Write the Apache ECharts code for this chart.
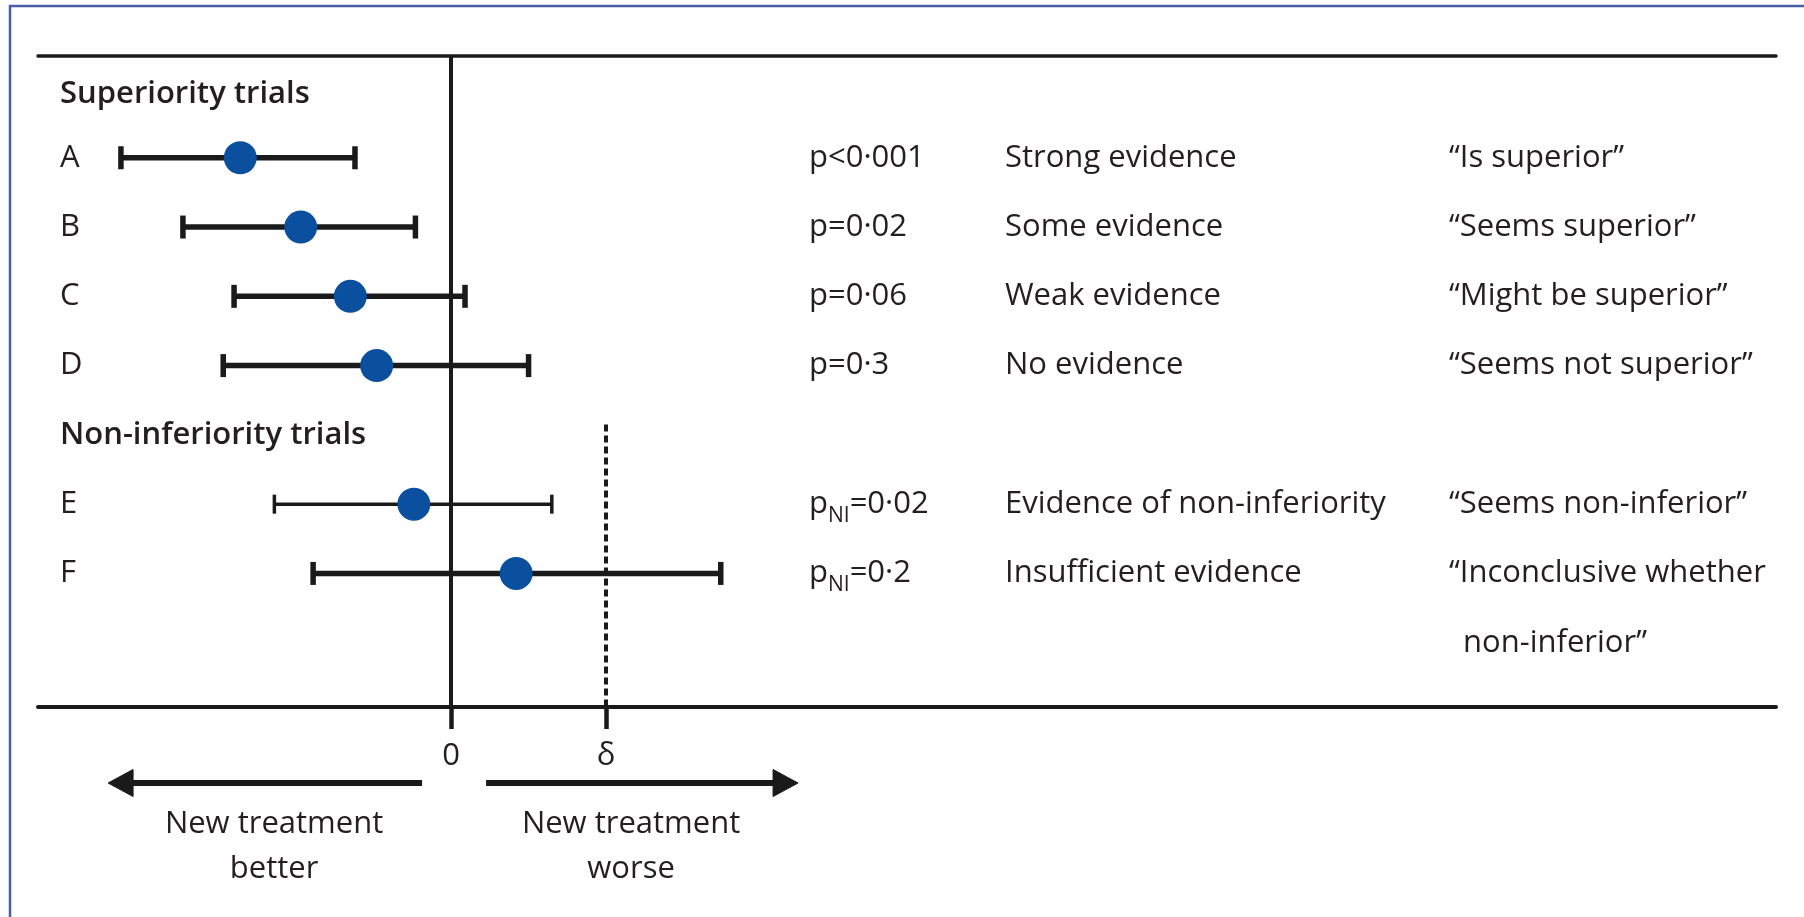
<!DOCTYPE html>
<html>
<head>
<meta charset="utf-8">
<script src="https://cdn.jsdelivr.net/npm/echarts@6/dist/echarts.min.js"></script>
<style>
html,body{margin:0;padding:0;background:#ffffff;}
#chart{width:1804px;height:917px;}
</style>
</head>
<body>
<div id="chart"></div>
<script>
// ---------- data ----------
const rowLabels = ['Superiority trials', 'A', 'B', 'C', 'D', 'Non-inferiority trials', 'E', 'F', ''];
const headers = ['Superiority trials', 'Non-inferiority trials'];
const trials = ['A', 'B', 'C', 'D', 'E', 'F'];
const estimates = [-1.36, -0.97, -0.65, -0.48, -0.24, 0.42];
const ciLower = [-2.13, -1.73, -1.40, -1.47, -1.14, -0.89];
const ciUpper = [-0.62, -0.23, 0.09, 0.50, 0.65, 1.74];
const pSub = ['', '', '', '', 'NI', 'NI'];
const pRel = ['<0·001', '=0·02', '=0·06', '=0·3', '=0·02', '=0·2'];
const evidence = ['Strong evidence', 'Some evidence', 'Weak evidence', 'No evidence', 'Evidence of non-inferiority', 'Insufficient evidence'];
const interpretation = ['“Is superior”', '“Seems superior”', '“Might be superior”', '“Seems not superior”', '“Seems non-inferior”', '“Inconclusive whether\nnon-inferior”'];
const xTickValues = [0, 1];
const xTickLabels = ['0', 'δ'];
const directionLabels = ['New treatment\nbetter', 'New treatment\nworse'];

// ---------- helpers ----------
const FONT = '"Open Sans", "Noto Sans", sans-serif';
const TXT = '#231f20';
const INK = '#1a1a1a';
const rowIdx = s => rowLabels.indexOf(s);
const X_MIN = -2.665, X_MAX = 8.548;
const Y_MIN = -0.469, Y_MAX = 8.928;

// map row index -> text for each right column
const pMap = {}, evMap = {}, qMap = {};
trials.forEach((t, i) => {
  const r = rowIdx(t);
  pMap[r] = '{m|p}' + (pSub[i] ? '{s|' + pSub[i] + '}' : '') + '{m|' + pRel[i] + '}';
  evMap[r] = '{m|' + evidence[i] + '}';
  const parts = interpretation[i].split('\n');
  qMap[r] = '{m|' + parts[0] + '}';
  if (parts[1]) qMap[r + 1] = '{c|' + parts[1] + '}';
});
const keysOf = m => Object.keys(m).map(Number);

const richMain = {
  m: { fontFamily: FONT, fontSize: 31, color: TXT, lineHeight: 45, verticalAlign: 'middle' },
  s: { fontFamily: FONT, fontSize: 21, color: TXT, lineHeight: 21, verticalAlign: 'bottom' },
  c: { fontFamily: FONT, fontSize: 31, color: TXT, lineHeight: 45, padding: [0, 0, 0, 14] }
};

function textAxis(offset, map) {
  return {
    type: 'value', position: 'left', offset: offset, inverse: true,
    min: Y_MIN, max: Y_MAX,
    axisLine: { show: false }, axisTick: { show: false }, splitLine: { show: false },
    axisLabel: {
      inside: true, margin: 0, align: 'left', verticalAlign: 'middle',
      customValues: keysOf(map),
      formatter: v => map[Math.round(v)] || '',
      rich: richMain
    }
  };
}

const chart = echarts.init(document.getElementById('chart'), null, { renderer: 'canvas' });

const GRID = { left: 38, right: 28, top: 56, bottom: 210 };

const option = {
  backgroundColor: '#ffffff',
  animation: false,
  grid: { left: GRID.left, right: GRID.right, top: GRID.top, bottom: GRID.bottom, containLabel: false },
  xAxis: [
    {
      type: 'value', position: 'bottom', min: X_MIN, max: X_MAX,
      axisLine: { show: true, onZero: false, lineStyle: { color: INK, width: 4 } },
      axisTick: { show: true, customValues: xTickValues, length: 22, lineStyle: { color: INK, width: 4.5 } },
      axisLabel: {
        show: true, customValues: xTickValues, margin: 34,
        fontFamily: FONT, fontSize: 31, color: TXT,
        formatter: v => xTickLabels[xTickValues.indexOf(Math.round(v))] || ''
      },
      splitLine: { show: false }
    },
    {
      type: 'value', position: 'top', min: X_MIN, max: X_MAX,
      axisLine: { show: true, onZero: false, lineStyle: { color: INK, width: 3.5 } },
      axisTick: { show: false }, axisLabel: { show: false }, splitLine: { show: false }
    }
  ],
  yAxis: [
    {
      type: 'value', position: 'left', inverse: true, min: Y_MIN, max: Y_MAX,
      axisLine: { show: false }, axisTick: { show: false }, splitLine: { show: false },
      axisLabel: {
        inside: true, margin: 22, align: 'left', verticalAlign: 'middle',
        customValues: rowLabels.map((s, i) => i).filter(i => rowLabels[i] !== ''),
        formatter: v => {
          const s = rowLabels[Math.round(v)];
          const h = headers.indexOf(s);
          if (h === 0) return '{h1|' + s + '}';
          if (h > 0) return '{h|' + s + '}';
          return '{r|' + s + '}';
        },
        rich: {
          h1: { fontFamily: FONT, fontSize: 31, fontWeight: 600, color: TXT, padding: [12, 0, 0, 0] },
          h: { fontFamily: FONT, fontSize: 31, fontWeight: 600, color: TXT },
          r: { fontFamily: FONT, fontSize: 31, color: TXT }
        }
      }
    },
    textAxis(-(809 - GRID.left), pMap),
    textAxis(-(1005 - GRID.left), evMap),
    textAxis(-(1449 - GRID.left), qMap)
  ],
  series: [
    {
      type: 'custom',
      xAxisIndex: 0, yAxisIndex: 0,
      z: 3,
      data: trials.map((t, i) => [ciLower[i], ciUpper[i], rowIdx(t), t]),
      encode: { x: [0, 1], y: 2 },
      renderItem: function (params, api) {
        const y = api.value(2);
        const a = api.coord([api.value(0), y]);
        const b = api.coord([api.value(1), y]);
        const thin = params.dataIndex === trials.indexOf('E');
        const w = thin ? 3.5 : 5.5;
        const cap = thin ? 19 : 23;
        const st = { stroke: INK, lineWidth: w };
        return {
          type: 'group',
          children: [
            { type: 'line', shape: { x1: a[0], y1: a[1], x2: b[0], y2: b[1] }, style: st },
            { type: 'line', shape: { x1: a[0], y1: a[1] - cap / 2, x2: a[0], y2: a[1] + cap / 2 }, style: st },
            { type: 'line', shape: { x1: b[0], y1: b[1] - cap / 2, x2: b[0], y2: b[1] + cap / 2 }, style: st }
          ]
        };
      },
      markLine: {
        silent: true, symbol: 'none', label: { show: false }, animation: false,
        data: [
          { xAxis: 0, lineStyle: { color: INK, width: 4, type: 'solid' } },
          [
            { coord: [1, rowIdx('Non-inferiority trials') - 0.15], lineStyle: { color: INK, width: 4, type: [7, 4] } },
            { coord: [1, Y_MAX] }
          ]
        ]
      }
    },
    {
      type: 'scatter',
      xAxisIndex: 0, yAxisIndex: 0,
      z: 5,
      symbol: 'circle', symbolSize: 33,
      itemStyle: { color: '#0b4f9f', opacity: 1 },
      data: trials.map((t, i) => [estimates[i], rowIdx(t)])
    }
  ]
};

chart.setOption(option);

// direction arrows and captions below the axis
const zeroX = chart.convertToPixel({ xAxisIndex: 0 }, 0);
const axisY = 917 - GRID.bottom;
const arrowY = axisY + 76;
const headLen = 25, headHalf = 13.5;
const arrowStyle = { fill: INK, stroke: INK };
chart.setOption({
  graphic: [
    { type: 'rect', shape: { x: 10, y: 6, width: 1900, height: 1000 }, style: { fill: 'none', stroke: '#4a5ea6', lineWidth: 2.5 }, silent: true },
    { type: 'line', shape: { x1: zeroX - 29, y1: arrowY, x2: zeroX - 343 + headLen - 2, y2: arrowY }, style: { stroke: INK, lineWidth: 6 } },
    { type: 'polygon', shape: { points: [[zeroX - 343, arrowY], [zeroX - 343 + headLen, arrowY - headHalf], [zeroX - 343 + headLen, arrowY + headHalf]] }, style: arrowStyle },
    { type: 'line', shape: { x1: zeroX + 35, y1: arrowY, x2: zeroX + 347 - headLen + 2, y2: arrowY }, style: { stroke: INK, lineWidth: 6 } },
    { type: 'polygon', shape: { points: [[zeroX + 347, arrowY], [zeroX + 347 - headLen, arrowY - headHalf], [zeroX + 347 - headLen, arrowY + headHalf]] }, style: arrowStyle },
    { type: 'text', style: { text: directionLabels[0], x: zeroX - 177, y: axisY + 140, align: 'center', verticalAlign: 'middle', textAlign: 'center', textVerticalAlign: 'middle', font: '31px ' + FONT, fontSize: 31, fontFamily: FONT, lineHeight: 45, fill: TXT } },
    { type: 'text', style: { text: directionLabels[1], x: zeroX + 180, y: axisY + 140, align: 'center', verticalAlign: 'middle', textAlign: 'center', textVerticalAlign: 'middle', font: '31px ' + FONT, fontSize: 31, fontFamily: FONT, lineHeight: 45, fill: TXT } }
  ]
});
</script>
</body>
</html>
